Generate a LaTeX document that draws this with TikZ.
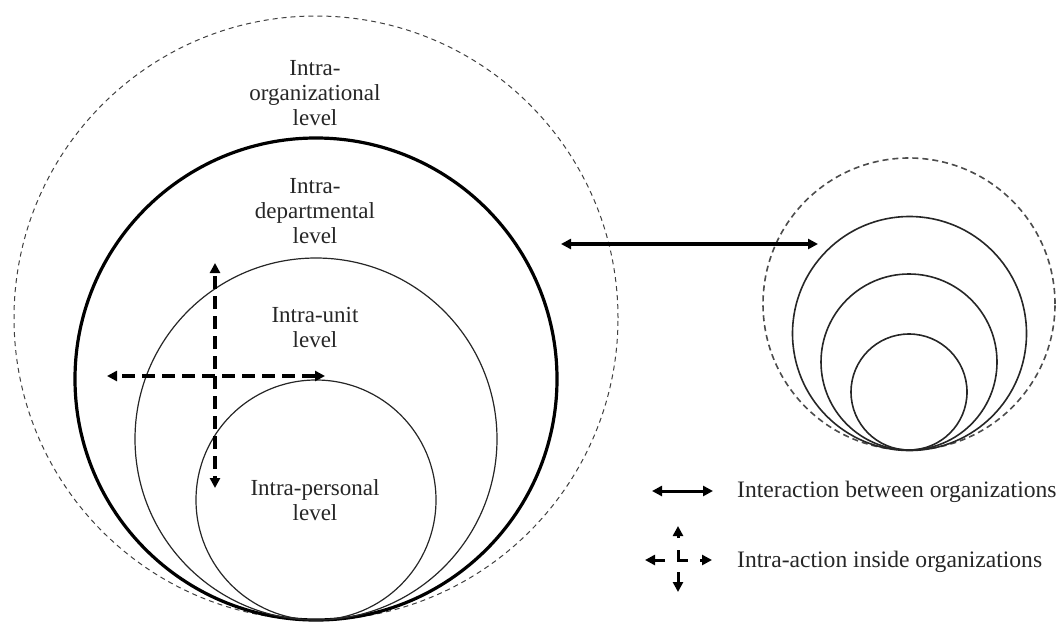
\documentclass[tikz,border=0pt]{standalone}
\usepackage{fontspec}
\setmainfont{Liberation Serif}
\usetikzlibrary{arrows.meta}
\begin{document}
\begin{tikzpicture}[x=1pt,y=-1pt,
  ring/.style={circle, draw=black!85, inner sep=0pt, minimum size=#1},
  lbl/.style={align=center, font=\fontsize{23}{25}\selectfont, text=black!85},
  leg/.style={anchor=west, font=\fontsize{23.6}{25}\selectfont, text=black!85, inner sep=0pt},
  tip/.style={-{Triangle[length=10pt,width=10pt]}},
  dtip/.style={{Triangle[length=10pt,width=10pt]}-{Triangle[length=10pt,width=10pt]}},
  dcross/.style={line width=3.4pt, dash pattern=on 13pt off 7pt, tip},
  lcross/.style={line width=3pt, tip}
  ]
\useasboundingbox (0,0) rectangle (1064,621);
% left group
\node[ring=604pt, line width=1pt, draw=black!75, dash pattern=on 5pt off 4pt] (org) at (316,318) {};
\node[ring=482pt, line width=3.2pt, draw=black] (dept) at (316,379) {};
\node[ring=362pt, line width=1.2pt] (unit) at (316,439) {};
\node[ring=240pt, line width=1.2pt] (pers) at (316,500) {};
% right group
\node[ring=292pt, line width=1.6pt, draw=black!70, dash pattern=on 6pt off 4pt] (rorg) at (909,304) {};
\node[ring=234pt, line width=1.6pt] (r1) at (909.5,333.5) {};
\node[ring=176pt, line width=1.6pt] (r2) at (909,362) {};
\node[ring=116pt, line width=1.6pt] (r3) at (909,392) {};
% labels
\node[lbl] (torg) at (315,93) {Intra-\\organizational\\level};
\node[lbl] (tdept) at (315,211) {Intra-\\departmental\\level};
\node[lbl] (tunit) at (315,327) {Intra-unit\\level};
\node[lbl] (tpers) at (315,500) {Intra-personal\\level};
% interaction arrow
\coordinate (ia) at (561,244);
\coordinate (ib) at (818,244);
\draw[dtip, line width=3.2pt] (ia) -- (ib);
% intra-action cross
\coordinate (c) at (215,376);
\coordinate (cl) at (107,376);
\coordinate (cr) at (325,376);
\coordinate (cu) at (215,263);
\coordinate (cd) at (215,488);
\draw[dcross] (c) -- (cl);
\draw[dcross] (c) -- (cd);
\draw[dcross, dash phase=13pt] (c) -- (cr);
\draw[dcross, dash phase=13pt] (c) -- (cu);
% legend
\coordinate (la) at (652,491);
\coordinate (lb) at (713,491);
\draw[dtip, line width=3pt] (la) -- (lb);
\node[leg] (l1) at (737,492) {Interaction between organizations};
\coordinate (lc) at (678,560);
\draw[line width=3pt] (678,550) -- (lc) -- (688,560);
\draw[lcross] (665,560) -- (645,560);
\draw[lcross] (700,560) -- (712,560);
\draw[lcross] (678,538) -- (678,526);
\draw[lcross] (678,572) -- (678,592);
\node[leg] (l2) at (737,562) {Intra-action inside organizations};
\end{tikzpicture}
\end{document}
